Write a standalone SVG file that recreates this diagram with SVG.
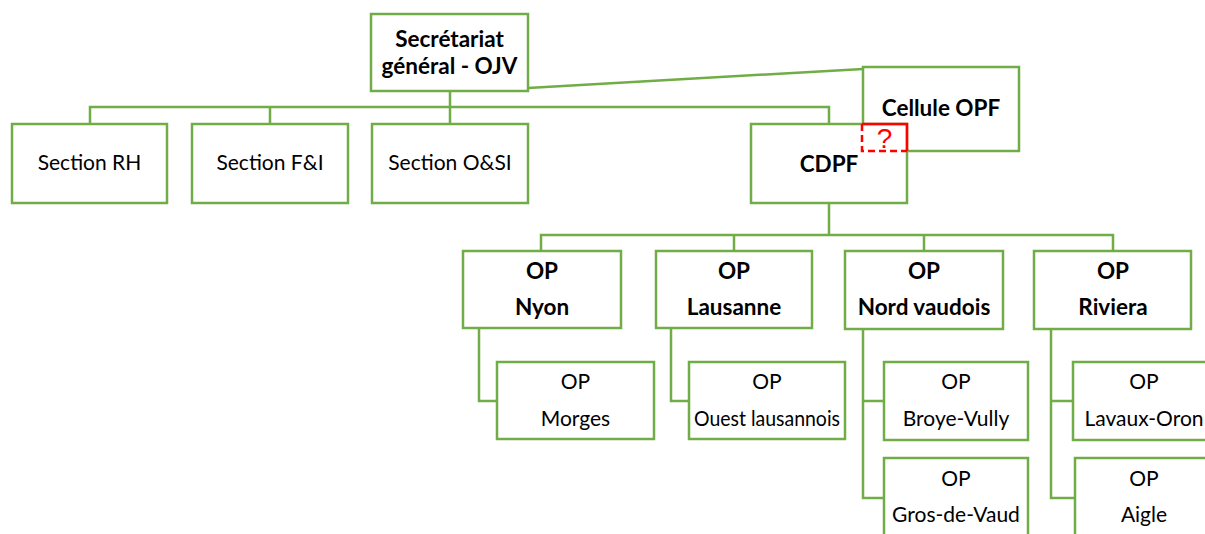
<svg xmlns="http://www.w3.org/2000/svg" width="1205" height="534" viewBox="0 0 1205 534">
<style>
.box{fill:#fff;stroke:#70AD47;stroke-width:2.5}
.ln{fill:none;stroke:#70AD47;stroke-width:2.5}
text{font-family:Lato,"Open Sans","Liberation Sans",sans-serif;font-size:21px;fill:#000;text-anchor:middle}
.b{font-weight:bold;font-size:22.5px}
</style>
<rect width="1205" height="534" fill="#fff"/>
<g id="connectors">
<path class="ln" d="M450,91V107M90,124V107H829V124M270,107V124M450,107V124"/>
<path class="ln" d="M528,88L863,69"/>
<path class="ln" d="M829,203V235M541,251V235H1113V251M734,235V251M924,235V251"/>
<path class="ln" d="M479,328V401H497"/>
<path class="ln" d="M671,328V401H689"/>
<path class="ln" d="M863,329V498H884M863,401H884"/>
<path class="ln" d="M1051,329V498H1075M1051,401H1073"/>
</g>
<g id="secretariat"><rect class="box" x="371" y="14" width="157" height="77"/><text class="b" x="449.5" y="47">Secrétariat</text><text class="b" x="449.5" y="74">général - OJV</text></g>
<g id="rh"><rect class="box" x="12" y="124" width="155" height="79"/><text x="89.5" y="170">Section RH</text></g>
<g id="fi"><rect class="box" x="192" y="124" width="156" height="79"/><text x="270" y="170">Section F&amp;I</text></g>
<g id="osi"><rect class="box" x="372" y="124" width="156" height="79"/><text x="450" y="170">Section O&amp;SI</text></g>
<g id="cellule"><rect class="box" x="863" y="67" width="156" height="84"/><text class="b" x="941" y="116">Cellule OPF</text></g>
<g id="cdpf"><rect class="box" x="751" y="124" width="156" height="79"/><text class="b" x="829" y="172">CDPF</text></g>
<g id="unknown"><path d="M862,124H907V151" fill="none" stroke="#FF0000" stroke-width="2.5"/><path d="M862,124V151H907" fill="none" stroke="#FF0000" stroke-width="2.5" stroke-dasharray="7,4"/><text x="884.5" y="148" style="fill:#FF0000;font-size:28px;font-family:'Liberation Sans',sans-serif">?</text></g>
<g id="nyon"><rect class="box" x="463" y="251" width="158" height="77"/><text class="b" x="542" y="279">OP</text><text class="b" x="542" y="315">Nyon</text></g>
<g id="lausanne"><rect class="box" x="656" y="251" width="156" height="77"/><text class="b" x="734" y="279">OP</text><text class="b" x="734" y="315">Lausanne</text></g>
<g id="nordvaudois"><rect class="box" x="845" y="251" width="158" height="78"/><text class="b" x="924" y="279">OP</text><text class="b" x="924" y="315">Nord vaudois</text></g>
<g id="riviera"><rect class="box" x="1034" y="251" width="157" height="78"/><text class="b" x="1113" y="279">OP</text><text class="b" x="1113" y="315">Riviera</text></g>
<g id="morges"><rect class="box" x="497" y="362" width="157" height="77"/><text x="575.5" y="389">OP</text><text x="575.5" y="426">Morges</text></g>
<g id="ouest"><rect class="box" x="689" y="362" width="156" height="77"/><text x="767" y="389" >OP</text><text x="767" y="426" textLength="146" lengthAdjust="spacingAndGlyphs">Ouest lausannois</text></g>
<g id="broye"><rect class="box" x="884" y="362" width="144" height="78"/><text x="956" y="389">OP</text><text x="956" y="426">Broye-Vully</text></g>
<g id="gros"><rect class="box" x="884" y="458" width="144" height="90"/><text x="956" y="486">OP</text><text x="956" y="522">Gros-de-Vaud</text></g>
<g id="lavaux"><rect class="box" x="1073" y="362" width="150" height="78"/><text x="1144" y="389">OP</text><text x="1144" y="426">Lavaux-Oron</text></g>
<g id="aigle"><rect class="box" x="1075" y="458" width="150" height="90"/><text x="1144" y="486">OP</text><text x="1144" y="522">Aigle</text></g>
</svg>
